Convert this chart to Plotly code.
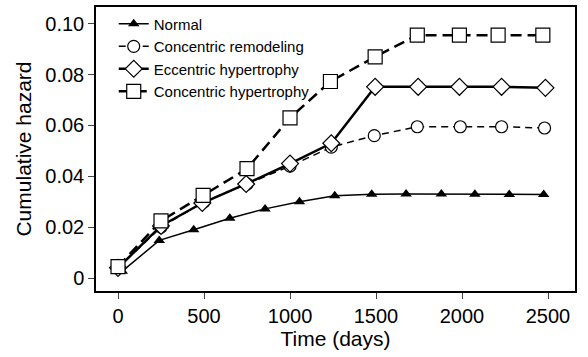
import plotly.graph_objects as go

# Data (time in days, cumulative hazard)
normal_t = [25, 240, 440, 650, 855, 1055, 1260, 1475, 1675, 1880, 2075, 2275, 2475]
normal_v = [0.0027, 0.0148, 0.0190, 0.0235, 0.0272, 0.0300, 0.0324, 0.0330, 0.0331, 0.0331, 0.0330, 0.0329, 0.0329]

cr_t = [0, 250, 500, 750, 1000, 1240, 1490, 1740, 1990, 2230, 2480]
cr_v = [0.0040, 0.0200, 0.0300, 0.0370, 0.0440, 0.0515, 0.0560, 0.0595, 0.0595, 0.0595, 0.0590]

eh_t = [0, 250, 490, 745, 1000, 1240, 1495, 1745, 1985, 2230, 2485]
eh_v = [0.0040, 0.0205, 0.0295, 0.0370, 0.0450, 0.0530, 0.0752, 0.0752, 0.0752, 0.0752, 0.0748]

ch_t = [0, 250, 495, 750, 1000, 1235, 1495, 1740, 1985, 2210, 2470]
ch_v = [0.0045, 0.0225, 0.0325, 0.0430, 0.0630, 0.0773, 0.0870, 0.0955, 0.0955, 0.0955, 0.0955]

y_ticks = [0, 0.02, 0.04, 0.06, 0.08, 0.10]
y_labels = ["0", "0.02", "0.04", "0.06", "0.08", "0.10"]
x_ticks = [0, 500, 1000, 1500, 2000, 2500]

FONT = "Liberation Sans, Arial, Helvetica, sans-serif"

fig = go.Figure()
fig.add_trace(go.Scatter(
    x=normal_t, y=normal_v, name="Normal", mode="lines+markers",
    line=dict(color="black", width=1.5),
    marker=dict(symbol="triangle-up", size=10, color="black")))
fig.add_trace(go.Scatter(
    x=cr_t, y=cr_v, name="Concentric remodeling", mode="lines+markers",
    line=dict(color="black", width=1.5, dash="7px,5px"),
    marker=dict(symbol="circle", size=12, color="white", line=dict(color="black", width=1.2))))
fig.add_trace(go.Scatter(
    x=eh_t, y=eh_v, name="Eccentric hypertrophy", mode="lines+markers",
    line=dict(color="black", width=2.5),
    marker=dict(symbol="diamond", size=13, color="white", line=dict(color="black", width=1.2))))
fig.add_trace(go.Scatter(
    x=ch_t, y=ch_v, name="Concentric hypertrophy", mode="lines+markers",
    line=dict(color="black", width=2.5, dash="11px,6px"),
    marker=dict(symbol="square", size=14, color="white", line=dict(color="black", width=1.2))))

fig.update_layout(
    width=588, height=357,
    margin=dict(l=96, r=13, t=5, b=66),
    paper_bgcolor="white", plot_bgcolor="white",
    font=dict(family=FONT, size=20, color="black"),
    showlegend=True,
    legend=dict(x=0.037, y=0.998, xanchor="left", yanchor="top",
                bgcolor="rgba(0,0,0,0)", font=dict(size=15),
                itemwidth=30, tracegroupgap=0),
    xaxis=dict(range=[-128, 2657], tickvals=x_ticks, ticks="outside", ticklen=6,
               tickwidth=1.2, showline=True, linecolor="black", linewidth=1.5,
               mirror=True, showgrid=False, zeroline=False,
               title=dict(text="Time (days)", standoff=5, font=dict(size=21)),
               tickfont=dict(size=20)),
    yaxis=dict(range=[-0.0051, 0.1066], tickvals=y_ticks, ticktext=y_labels,
               ticks="outside", ticklen=6, tickwidth=1.2, showline=True,
               linecolor="black", linewidth=1.5, mirror=True, showgrid=False,
               zeroline=False, title=dict(text="Cumulative hazard", standoff=8, font=dict(size=21)),
               tickfont=dict(size=20)),
)

fig.write_html("out.html")
